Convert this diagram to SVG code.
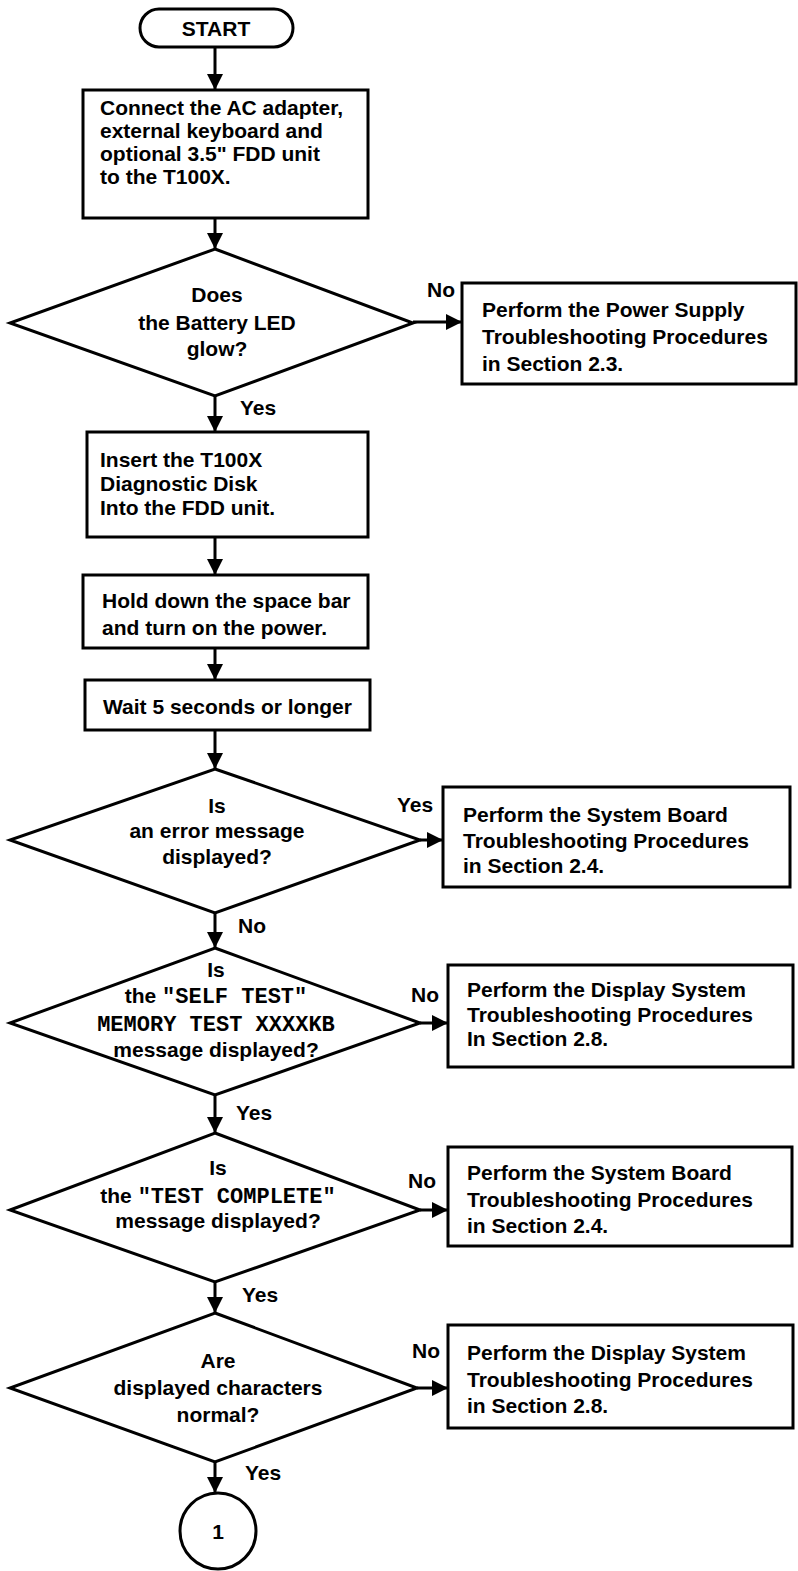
<svg xmlns="http://www.w3.org/2000/svg" width="798" height="1571" viewBox="0 0 798 1571">
<style>
.s{fill:#fff;stroke:#000;stroke-width:3;stroke-linejoin:miter}
.t{font-family:"Liberation Sans",Arial,sans-serif;font-weight:bold;font-size:21px;fill:#000}
.c{text-anchor:middle}
.m{font-family:"Liberation Mono","Courier New",monospace;font-weight:bold;font-size:22px}
.e{fill:none;stroke:#000;stroke-width:3}
</style>
<defs>
<marker id="ah" markerUnits="userSpaceOnUse" markerWidth="18" markerHeight="16" refX="16" refY="8" orient="auto">
<path d="M0,0 L16,8 L0,16 Z" fill="#000"/>
</marker>
</defs>
<g id="connectors">
<line class="e" x1="215" y1="47" x2="215" y2="90" marker-end="url(#ah)"/>
<line class="e" x1="215" y1="218" x2="215" y2="249" marker-end="url(#ah)"/>
<line class="e" x1="413" y1="322" x2="462" y2="322" marker-end="url(#ah)"/>
<line class="e" x1="215" y1="396" x2="215" y2="432" marker-end="url(#ah)"/>
<line class="e" x1="215" y1="537" x2="215" y2="575" marker-end="url(#ah)"/>
<line class="e" x1="215" y1="648" x2="215" y2="680" marker-end="url(#ah)"/>
<line class="e" x1="215" y1="730" x2="215" y2="769" marker-end="url(#ah)"/>
<line class="e" x1="420" y1="840" x2="443" y2="840" marker-end="url(#ah)"/>
<line class="e" x1="215" y1="913" x2="215" y2="948" marker-end="url(#ah)"/>
<line class="e" x1="420" y1="1023" x2="448" y2="1023" marker-end="url(#ah)"/>
<line class="e" x1="215" y1="1095" x2="215" y2="1133" marker-end="url(#ah)"/>
<line class="e" x1="420" y1="1210" x2="448" y2="1210" marker-end="url(#ah)"/>
<line class="e" x1="215" y1="1282" x2="215" y2="1313" marker-end="url(#ah)"/>
<line class="e" x1="417" y1="1388" x2="448" y2="1388" marker-end="url(#ah)"/>
<line class="e" x1="215" y1="1462" x2="215" y2="1493" marker-end="url(#ah)"/>
<text class="t" x="427" y="297">No</text>
<text class="t" x="240" y="415">Yes</text>
<text class="t" x="397" y="812">Yes</text>
<text class="t" x="238" y="933">No</text>
<text class="t" x="411" y="1002">No</text>
<text class="t" x="236" y="1120">Yes</text>
<text class="t" x="408" y="1188">No</text>
<text class="t" x="242" y="1302">Yes</text>
<text class="t" x="412" y="1358">No</text>
<text class="t" x="245" y="1480">Yes</text>
</g>
<g id="start">
<rect class="s" x="140" y="9" width="153" height="38" rx="19"/>
<text class="t c" x="216" y="36">START</text>
</g>
<g id="connect">
<rect class="s" x="83" y="90" width="285" height="128"/>
<text class="t" x="100" y="115">Connect the AC adapter,</text>
<text class="t" x="100" y="138">external keyboard and</text>
<text class="t" x="100" y="161">optional 3.5" FDD unit</text>
<text class="t" x="100" y="184">to the T100X.</text>
</g>
<g id="battery">
<polygon class="s" points="215,249 413,323 215,396 10,323"/>
<text class="t c" x="217" y="302">Does</text>
<text class="t c" x="217" y="330">the Battery LED</text>
<text class="t c" x="217" y="356">glow?</text>
</g>
<g id="power">
<rect class="s" x="462" y="283" width="334" height="101"/>
<text class="t" x="482" y="317">Perform the Power Supply</text>
<text class="t" x="482" y="344">Troubleshooting Procedures</text>
<text class="t" x="482" y="371">in Section 2.3.</text>
</g>
<g id="insert">
<rect class="s" x="87" y="432" width="281" height="105"/>
<text class="t" x="100" y="467">Insert the T100X</text>
<text class="t" x="100" y="491">Diagnostic Disk</text>
<text class="t" x="100" y="515">Into the FDD unit.</text>
</g>
<g id="hold">
<rect class="s" x="83" y="575" width="285" height="73"/>
<text class="t" x="102" y="608">Hold down the space bar</text>
<text class="t" x="102" y="635">and turn on the power.</text>
</g>
<g id="wait">
<rect class="s" x="85" y="680" width="285" height="50"/>
<text class="t" x="103" y="714">Wait 5 seconds or longer</text>
</g>
<g id="error">
<polygon class="s" points="215,769 420,840 215,913 10,840"/>
<text class="t c" x="217" y="813">Is</text>
<text class="t c" x="217" y="838">an error message</text>
<text class="t c" x="217" y="864">displayed?</text>
</g>
<g id="sysboard1">
<rect class="s" x="443" y="787" width="347" height="100"/>
<text class="t" x="463" y="822">Perform the System Board</text>
<text class="t" x="463" y="848">Troubleshooting Procedures</text>
<text class="t" x="463" y="873">in Section 2.4.</text>
</g>
<g id="selftest">
<polygon class="s" points="215,948 420,1023 215,1095 10,1023"/>
<text class="t c" x="216" y="977">Is</text>
<text class="t c" x="216" y="1003">the <tspan class="m">"SELF TEST"</tspan></text>
<text class="t c m" x="216" y="1031">MEMORY TEST XXXXKB</text>
<text class="t c" x="216" y="1057">message displayed?</text>
</g>
<g id="display1">
<rect class="s" x="448" y="965" width="345" height="102"/>
<text class="t" x="467" y="997">Perform the Display System</text>
<text class="t" x="467" y="1022">Troubleshooting Procedures</text>
<text class="t" x="467" y="1046">In Section 2.8.</text>
</g>
<g id="complete">
<polygon class="s" points="215,1133 420,1210 215,1282 10,1210"/>
<text class="t c" x="218" y="1175">Is</text>
<text class="t c" x="218" y="1203">the <tspan class="m">"TEST COMPLETE"</tspan></text>
<text class="t c" x="218" y="1228">message displayed?</text>
</g>
<g id="sysboard2">
<rect class="s" x="448" y="1147" width="344" height="99"/>
<text class="t" x="467" y="1180">Perform the System Board</text>
<text class="t" x="467" y="1207">Troubleshooting Procedures</text>
<text class="t" x="467" y="1233">in Section 2.4.</text>
</g>
<g id="chars">
<polygon class="s" points="215,1313 417,1388 215,1462 10,1388"/>
<text class="t c" x="218" y="1368">Are</text>
<text class="t c" x="218" y="1395">displayed characters</text>
<text class="t c" x="218" y="1422">normal?</text>
</g>
<g id="display2">
<rect class="s" x="448" y="1325" width="345" height="103"/>
<text class="t" x="467" y="1360">Perform the Display System</text>
<text class="t" x="467" y="1387">Troubleshooting Procedures</text>
<text class="t" x="467" y="1413">in Section 2.8.</text>
</g>
<g id="connector1">
<circle class="s" cx="218" cy="1531" r="38"/>
<text class="t c" x="218" y="1539">1</text>
</g>
</svg>
